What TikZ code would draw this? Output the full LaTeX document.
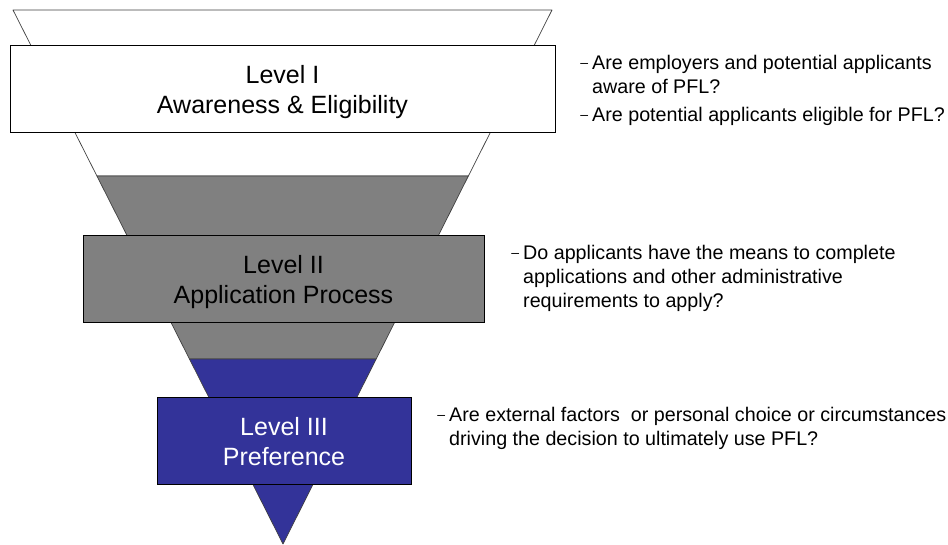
\documentclass[tikz,border=0pt]{standalone}
\usepackage{fontspec}
\setmainfont{Liberation Sans}
\usepackage{tikz}
\usetikzlibrary{calc}
\definecolor{levelgray}{RGB}{128,128,128}
\definecolor{levelblue}{RGB}{51,51,153}
\newcommand{\qdash}{\llap{\raisebox{1.5pt}{\fontsize{14}{14}\selectfont --}\hspace{4pt}}}

\begin{document}
\begin{tikzpicture}[x=1pt, y=-1pt,
    funnel/.style={draw=black!75, line width=0.7pt, line join=round},
    levelbox/.style={draw=black, line width=0.9pt, minimum height=87pt, inner sep=0pt,
      align=center, font=\fontsize{25}{30}\selectfont, text height=49pt, text depth=0pt},
    question/.style={anchor=north west, inner sep=0pt, align=left,
      font=\fontsize{19.7}{24}\selectfont}]
  \useasboundingbox (0,0) rectangle (948,544);

  % Funnel corners
  \coordinate (tl) at (13,10);
  \coordinate (tr) at (552,10);
  \coordinate (apex) at (283,544);

  % Cuts between the levels
  \coordinate (gl) at ($(tl)!0.3109!(apex)$);
  \coordinate (gr) at ($(tr)!0.3109!(apex)$);
  \coordinate (bl) at ($(tl)!0.6536!(apex)$);
  \coordinate (br) at ($(tr)!0.6536!(apex)$);

  % Funnel
  \draw[funnel, fill=white] (tl) -- (tr) -- (gr) -- (gl) -- cycle;
  \draw[funnel, fill=levelgray] (gl) -- (gr) -- (br) -- (bl) -- cycle;
  \draw[funnel, fill=levelblue] (bl) -- (br) -- (apex) -- cycle;

  % Level boxes
  \node[levelbox, fill=white, minimum width=545pt] (lvlone) at (282.5,88.5)
    {Level I\\Awareness \& Eligibility};
  \node[levelbox, fill=levelgray, minimum width=401pt] (lvltwo) at (283.5,278.5)
    {Level II\\Application Process};
  \node[levelbox, fill=levelblue, text=white, minimum width=254pt] (lvlthree) at (284,440.5)
    {Level III\\Preference};

  % Questions
  \node[question] (qone) at (592,55)
    {\qdash Are employers and potential applicants\\aware of PFL?\\[4pt]%
     \qdash Are potential applicants eligible for PFL?};
  \node[question] (qtwo) at (523,245)
    {\qdash Do applicants have the means to complete\\applications and other administrative\\requirements to apply?};
  \node[question] (qthree) at (449,407)
    {\qdash Are external factors\ \ or personal choice or circumstances\\driving the decision to ultimately use PFL?};
\end{tikzpicture}
\end{document}
